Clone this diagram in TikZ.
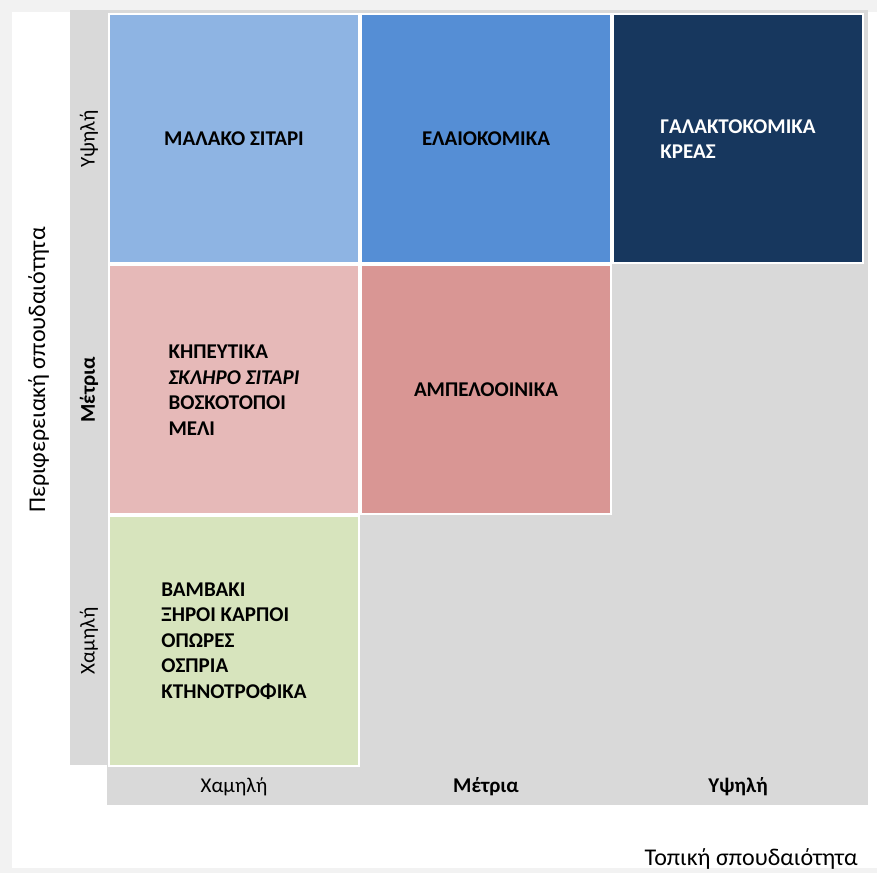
\documentclass[tikz,border=0pt]{standalone}
\usepackage{fontspec}
\setmainfont{Carlito}
\usetikzlibrary{positioning}
\definecolor{framegray}{HTML}{F2F2F2}
\definecolor{bggray}{HTML}{D9D9D9}
\definecolor{softblue}{HTML}{8EB4E3}
\definecolor{midblue}{HTML}{558ED5}
\definecolor{navy}{HTML}{17375E}
\definecolor{softrose}{HTML}{E6B9B8}
\definecolor{midrose}{HTML}{D99694}
\definecolor{softgreen}{HTML}{D7E4BD}

\begin{document}
\begin{tikzpicture}[x=1pt, y=1pt, node distance=0pt,
	cell/.style={draw=white, line width=2pt, minimum width=250pt, minimum height=249pt, inner sep=0pt, align=left, font=\fontsize{21}{25.5}\selectfont\bfseries},
	lvl/.style={font=\fontsize{21}{25}\selectfont},
	lvlb/.style={font=\fontsize{21}{25}\selectfont\bfseries},
	axtitle/.style={font=\fontsize{24}{29}\selectfont, inner sep=0pt}]
	\useasboundingbox (0,0) rectangle (877,873);
	\fill[framegray] (0,0) rectangle (877,873);
	\fill[white] (12,5) rectangle (877,861);
	\fill[bggray] (70,108) rectangle (868,863);
	\fill[bggray] (107,68) rectangle (868,108);
	\node[cell, fill=softblue] (c11) at (234,734) {ΜΑΛΑΚΟ ΣΙΤΑΡΙ};
	\node[cell, fill=midblue, right=of c11] (c12) {ΕΛΑΙΟΚΟΜΙΚΑ};
	\node[cell, fill=navy, text=white, right=of c12] (c13) {ΓΑΛΑΚΤΟΚΟΜΙΚΑ\\ΚΡΕΑΣ};
	\node[cell, fill=softrose, below=of c11] (c21) {ΚΗΠΕΥΤΙΚΑ\\\textit{ΣΚΛΗΡΟ ΣΙΤΑΡΙ}\\ΒΟΣΚΟΤΟΠΟΙ\\ΜΕΛΙ};
	\node[cell, fill=midrose, right=of c21] (c22) {ΑΜΠΕΛΟΟΙΝΙΚΑ};
	\node[cell, fill=softgreen, below=of c21] (c31) {ΒΑΜΒΑΚΙ\\ΞΗΡΟΙ ΚΑΡΠΟΙ\\ΟΠΩΡΕΣ\\ΟΣΠΡΙΑ\\ΚΤΗΝΟΤΡΟΦΙΚΑ};
	\node[lvl, rotate=90] (yhigh) at (89,0 |- c11) {Υψηλή};
	\node[lvlb, rotate=90] (ymid) at (89,0 |- c21) {Μέτρια};
	\node[lvl, rotate=90] (ylow) at (89,0 |- c31) {Χαμηλή};
	\node[lvl] (xlow) at (c31 |- 0,86) {Χαμηλή};
	\node[lvlb] (xmid) at (c22 |- 0,86) {Μέτρια};
	\node[lvlb] (xhigh) at (c13 |- 0,86) {Υψηλή};
	\node[axtitle, rotate=90, anchor=base west] (ytitle) at (45,360) {Περιφερειακή σπουδαιότητα};
	\node[axtitle, anchor=base east] (xtitle) at (858,8) {Τοπική σπουδαιότητα};
\end{tikzpicture}
\end{document}
